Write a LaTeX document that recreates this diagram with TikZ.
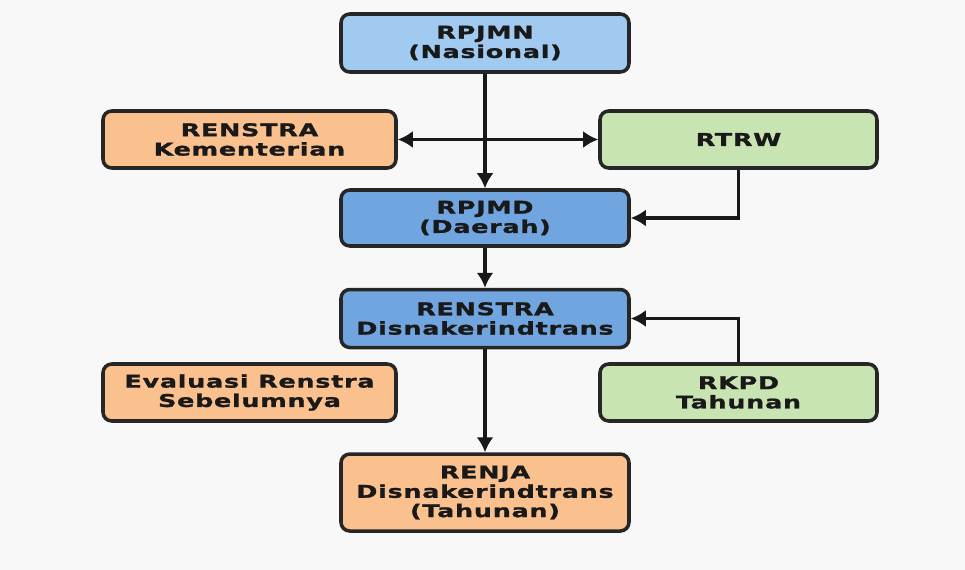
\documentclass[tikz,border=0pt]{standalone}
\usepackage{fontspec}
\usetikzlibrary{positioning, arrows.meta}
\newfontfamily\boxfont{DejaVu Sans}[FakeStretch=1.45, LetterSpace=4, FakeBold=1.2]
\definecolor{bgcol}{RGB}{248,248,248}
\definecolor{nasblue}{RGB}{160,202,240}
\definecolor{dablue}{RGB}{112,165,224}
\definecolor{planorange}{RGB}{250,192,142}
\definecolor{plangreen}{RGB}{200,228,178}
\tikzset{
  planbox/.style={draw=black!85, line width=2pt, rounded corners=5pt, minimum width=5.76cm, minimum height=1.16cm, align=center, text=black!90, font=\boxfont\bfseries\fontsize{10}{11}\selectfont},
  flow/.style={line width=2pt, draw=black!90, -{Latex[length=3mm, width=3.4mm]}},
}

\begin{document}
\begin{tikzpicture}
    \fill [bgcol] (0,0) rectangle (19.3,-11.4);
    \useasboundingbox (0,0) rectangle (19.3,-11.4);
    % Main column
    \node (rpjmn) [planbox, fill=nasblue] at (9.7,-0.86) {RPJMN\\(Nasional)};
    \node (rpjmd) [planbox, fill=dablue, minimum height=1.12cm] at (9.7,-4.36) {RPJMD\\(Daerah)};
    \node (renstra) [planbox, fill=dablue, below=0.8cm of rpjmd] {RENSTRA\\Disnakerindtrans};
    \node (renja) [planbox, fill=planorange, minimum height=1.54cm, below=2.06cm of renstra] {RENJA\\Disnakerindtrans\\(Tahunan)};
    % Side boxes
    \node (kementerian) [planbox, fill=planorange, minimum width=5.86cm, minimum height=1.14cm] at (4.99,-2.79) {RENSTRA\\Kementerian};
    \node (rtrw) [planbox, fill=plangreen, minimum width=5.54cm, minimum height=1.14cm] at (14.77,-2.79) {RTRW};
    \node (evaluasi) [planbox, fill=planorange, minimum width=5.86cm, minimum height=1.14cm] at (4.99,-7.85) {Evaluasi Renstra\\Sebelumnya};
    \node (rkpd) [planbox, fill=plangreen, minimum width=5.54cm, minimum height=1.14cm] at (14.77,-7.85) {RKPD\\Tahunan};
    % Connectors
    \draw [flow, {Latex[length=3mm, width=3.4mm]}-{Latex[length=3mm, width=3.4mm]}] (kementerian.east) -- (rtrw.west);
    \draw [flow] (rpjmn) -- (rpjmd);
    \draw [flow] (rtrw.south) |- (rpjmd.east);
    \draw [flow] (rpjmd) -- (renstra);
    \draw [flow] (rkpd.north) |- (renstra.east);
    \draw [flow] (renstra) -- (renja);
\end{tikzpicture}
\end{document}
